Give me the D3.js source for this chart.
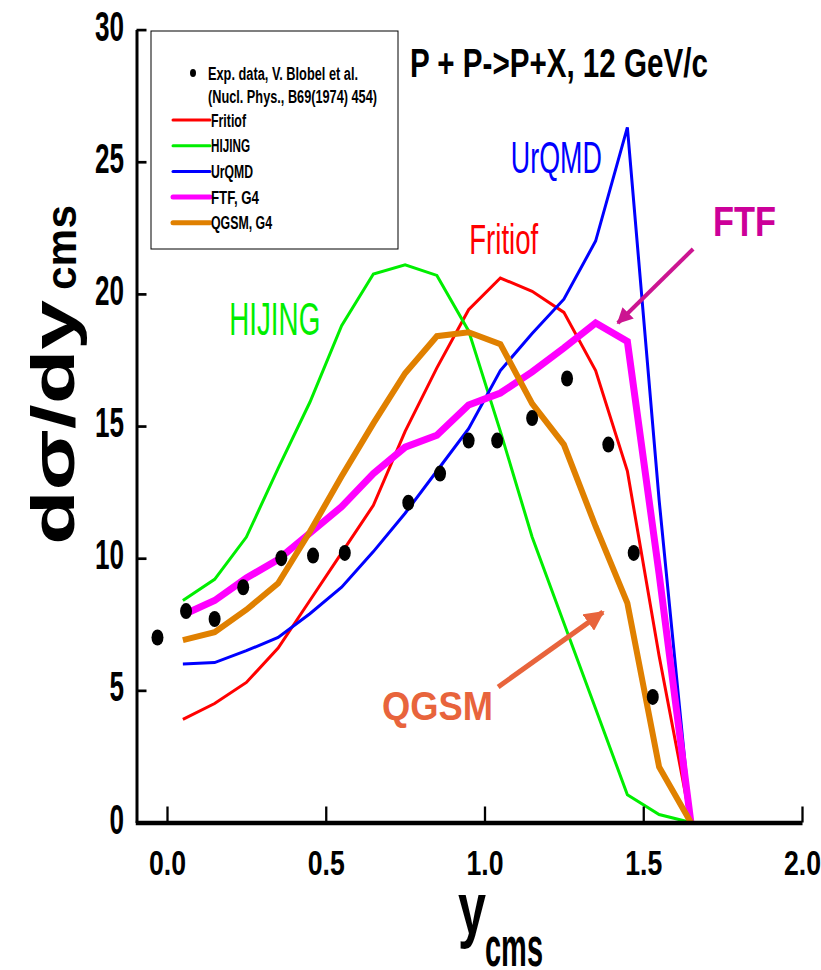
<!DOCTYPE html>
<html lang="en">
<head>
  <meta charset="UTF-8">
  <title>P + P -> P + X, 12 GeV/c</title>
  <style>
    body { margin: 0; background: #fff; }
    svg { display: block; }
    text { font-family: "Liberation Sans", Arial, sans-serif; }
  </style>
  <script src="https://d3js.org/d3.v7.min.js"></script>
</head>
<body>
  <svg width="821" height="970"></svg>
  <script>
    // model curves share the same rapidity bins
    const modelX = [0.05, 0.15, 0.25, 0.35, 0.45, 0.55, 0.65, 0.75, 0.85, 0.95, 1.05, 1.15, 1.25, 1.35, 1.45, 1.55, 1.65];
    const fritiof = [3.9, 4.5, 5.3, 6.6, 8.4, 10.2, 12.0, 14.8, 17.2, 19.4, 20.6, 20.1, 19.3, 17.1, 13.3, 6.3, 0];
    const hijing = [8.4, 9.2, 10.8, 13.4, 15.9, 18.8, 20.75, 21.1, 20.7, 18.6, 14.8, 10.8, 7.55, 4.3, 1.05, 0.3, 0];
    const urqmd = [6.0, 6.05, 6.5, 7.0, 7.9, 8.9, 10.25, 11.7, 13.3, 14.9, 17.1, 18.5, 19.8, 22.0, 26.3, 12.2, 0];
    const ftf = [7.85, 8.4, 9.25, 9.95, 10.95, 11.95, 13.2, 14.2, 14.65, 15.8, 16.25, 17.05, 17.95, 18.9, 18.2, 9.4, 0];
    const qgsm = [6.9, 7.2, 8.05, 9.05, 11.0, 13.1, 15.1, 17.0, 18.4, 18.55, 18.1, 15.85, 14.3, 11.2, 8.3, 2.1, 0];

    // Blobel et al. data
    const expX = [-0.03, 0.06, 0.15, 0.24, 0.36, 0.46, 0.56, 0.76, 0.86, 0.95, 1.04, 1.15, 1.26, 1.39, 1.47, 1.53];
    const expY = [7.0, 8.0, 7.7, 8.9, 10.0, 10.1, 10.2, 12.1, 13.2, 14.45, 14.45, 15.3, 16.8, 14.3, 10.2, 4.75];

    const xTicks = [0, 0.5, 1.0, 1.5, 2.0];
    const yTicks = [0, 5, 10, 15, 20, 25, 30];

    const series = [
      {name: "Fritiof", values: fritiof, color: "#ff0000", width: 3},
      {name: "HIJING", values: hijing, color: "#00ee00", width: 3},
      {name: "UrQMD", values: urqmd, color: "#0000ff", width: 3},
      {name: "FTF, G4", values: ftf, color: "#ff00ff", width: 7},
      {name: "QGSM, G4", values: qgsm, color: "#e08000", width: 6}
    ];

    const svg = d3.select("svg");

    const x = d3.scaleLinear().domain([-0.1, 2.0]).range([135.25, 802]);
    const y = d3.scaleLinear().domain([0, 30]).range([822.5, 29.6]);

    // text squeezed to a given width, like the original export
    function squeezed(parent, str, px, py, size, len, opts = {}) {
      return parent.append("text")
        .attr("x", px).attr("y", py)
        .attr("font-size", size)
        .attr("font-weight", opts.weight || "bold")
        .attr("fill", opts.fill || "#000")
        .attr("text-anchor", opts.anchor || "start")
        .attr("textLength", len)
        .attr("lengthAdjust", "spacingAndGlyphs")
        .text(str);
    }

    // curves
    const line = d3.line()
      .x((d, i) => x(modelX[i]))
      .y(d => y(d));

    svg.append("g")
      .selectAll("path")
      .data(series)
      .join("path")
      .attr("fill", "none")
      .attr("stroke", d => d.color)
      .attr("stroke-width", d => d.width)
      .attr("stroke-linejoin", "miter")
      .attr("d", d => line(d.values));

    // exp points
    svg.append("g")
      .selectAll("ellipse")
      .data(expX)
      .join("ellipse")
      .attr("cx", d => x(d))
      .attr("cy", (d, i) => y(expY[i]))
      .attr("rx", 6)
      .attr("ry", 8)
      .attr("fill", "#000");

    // axes
    const yAxis = svg.append("g")
      .attr("transform", `translate(${x(-0.1) + 1.25},0)`)
      .call(d3.axisLeft(y).tickValues(yTicks).tickSize(-10).tickSizeOuter(0).tickPadding(12.5));
    yAxis.select(".domain").attr("stroke-width", 3);
    yAxis.selectAll(".tick line").attr("stroke-width", 2.7);
    yAxis.selectAll(".tick text")
      .attr("font-size", 42).attr("font-weight", "bold")
      .attr("font-family", null)
      .attr("dy", 10.5)
      .attr("textLength", d => String(d).length * 14.5)
      .attr("lengthAdjust", "spacingAndGlyphs");

    const xAxis = svg.append("g")
      .attr("transform", `translate(0,${y(0)})`)
      .call(d3.axisBottom(x).tickValues(xTicks).tickSize(-16).tickSizeOuter(0).tickFormat(d3.format(".1f")));
    xAxis.select(".domain").attr("stroke-width", 4.5);
    xAxis.selectAll(".tick line").attr("stroke-width", 2.3);
    xAxis.selectAll(".tick text")
      .attr("font-size", 35).attr("font-weight", "bold")
      .attr("font-family", null)
      .attr("y", 52.5).attr("dy", 0)
      .attr("textLength", 37)
      .attr("lengthAdjust", "spacingAndGlyphs");
    svg.selectAll(".domain, .tick line").attr("stroke", "#000");

    // axis titles
    squeezed(svg, "y", 458, 934, 75, 28);
    squeezed(svg, "cms", 485, 966, 55, 58);

    const yTitle = svg.append("g").attr("transform", "rotate(-90)");
    squeezed(yTitle, "dσ/dy", -545, 74, 62, 245, {weight: 900});
    squeezed(yTitle, "cms", -290, 76, 42, 85);

    // title and annotations
    squeezed(svg, "P + P->P+X, 12 GeV/c", x(0.765), y(28.2), 40, 298);
    squeezed(svg, "HIJING", x(0.196), y(18.45), 46, 91, {weight: "normal", fill: "#00ee00"});
    squeezed(svg, "Fritiof", x(0.952), y(21.51), 43, 69, {weight: "normal", fill: "#ff0000"});
    squeezed(svg, "UrQMD", x(1.083), y(24.59), 45, 91, {weight: "normal", fill: "#0000ff"});
    squeezed(svg, "FTF", x(1.72), y(22.19), 43, 63, {fill: "#cc0099"});
    squeezed(svg, "QGSM", x(0.677), y(3.88), 40, 111, {fill: "#e8643c"});

    const arrows = [
      {from: [1.657, 21.70], to: [1.420, 18.90], color: "#cc1591", width: 4},
      {from: [1.043, 5.13], to: [1.373, 7.96], color: "#e8643c", width: 5}
    ];
    const defs = svg.append("defs");
    arrows.forEach((a, i) => {
      defs.append("marker")
        .attr("id", "head" + i)
        .attr("viewBox", "0 0 10 10")
        .attr("refX", 9).attr("refY", 5)
        .attr("markerWidth", 4).attr("markerHeight", 4)
        .attr("markerUnits", "strokeWidth")
        .attr("orient", "auto")
        .append("path")
        .attr("d", "M0,0L10,5L0,10z")
        .attr("fill", a.color);
      svg.append("line")
        .attr("x1", x(a.from[0])).attr("y1", y(a.from[1]))
        .attr("x2", x(a.to[0])).attr("y2", y(a.to[1]))
        .attr("stroke", a.color)
        .attr("stroke-width", a.width)
        .attr("marker-end", `url(#head${i})`);
    });

    // legend
    const lg = svg.append("g");
    lg.append("rect")
      .attr("x", 151).attr("y", 31)
      .attr("width", 247).attr("height", 218)
      .attr("fill", "none").attr("stroke", "#000").attr("stroke-width", 1);
    lg.append("ellipse").attr("cx", 193).attr("cy", 73).attr("rx", 3).attr("ry", 4).attr("fill", "#000");
    squeezed(lg, "Exp. data, V. Blobel et al.", 208, 80, 18, 150);
    squeezed(lg, "(Nucl. Phys., B69(1974) 454)", 208, 103, 18, 169);
    const legendW = [35, 39, 42, 48, 61];
    series.forEach((s, i) => {
      const cy = 120 + i * 25.7;
      lg.append("line")
        .attr("x1", 173).attr("x2", 210)
        .attr("y1", cy).attr("y2", cy)
        .attr("stroke", s.color)
        .attr("stroke-width", s.width > 4 ? 5 : 3)
        .attr("stroke-linecap", "round");
      squeezed(lg, s.name, 211, cy + 6.5, 18, legendW[i]);
    });
  </script>
</body>
</html>
